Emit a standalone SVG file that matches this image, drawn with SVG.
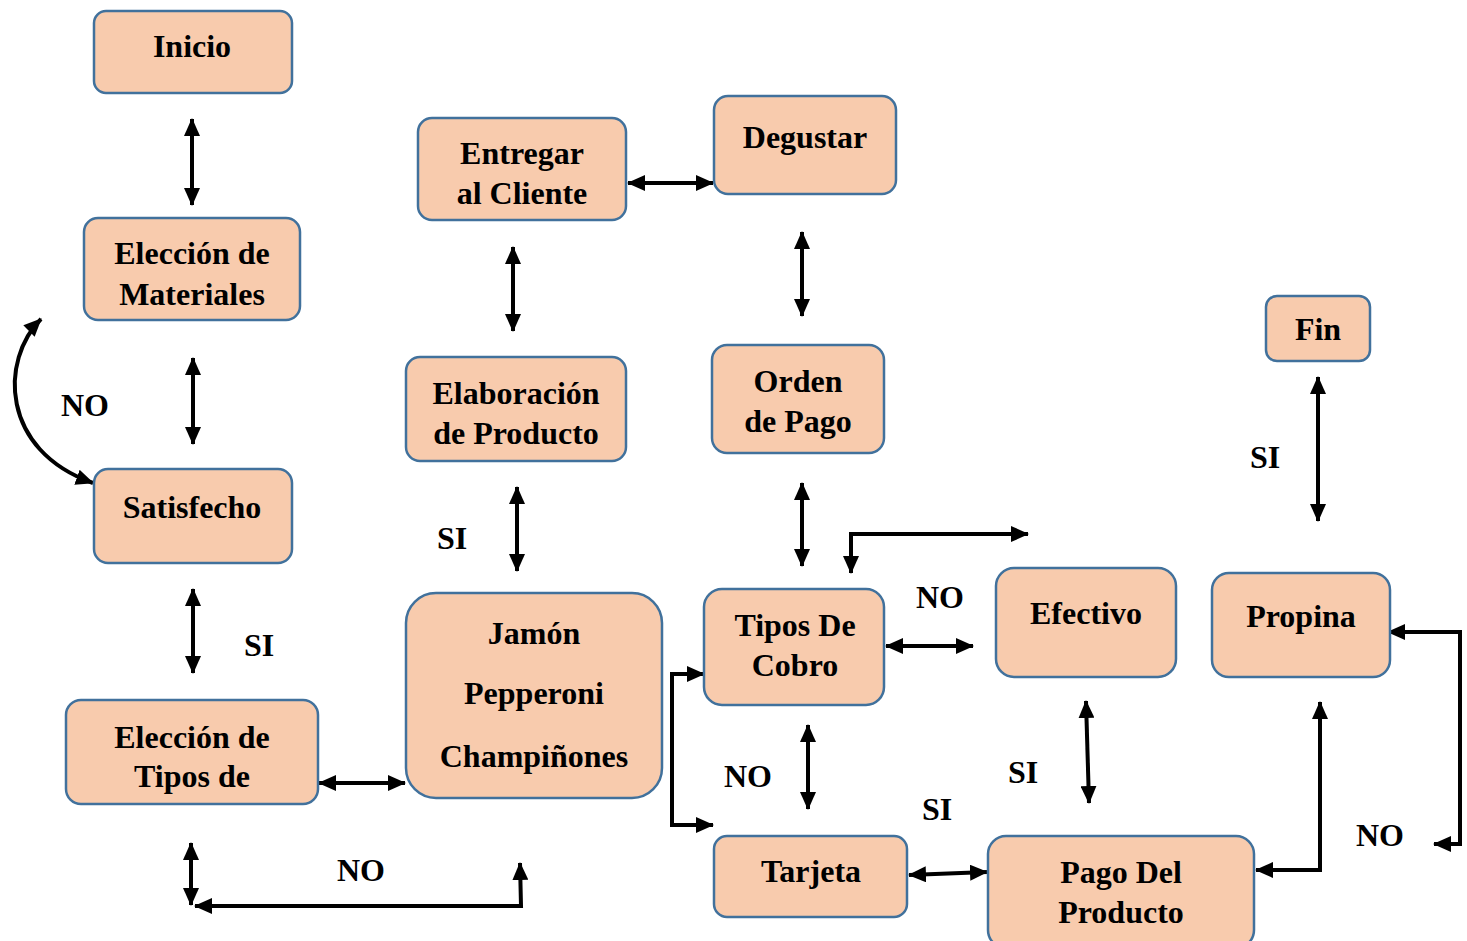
<svg xmlns="http://www.w3.org/2000/svg" width="1467" height="941" viewBox="0 0 1467 941">
<style>
.box{fill:#F8CBAD;stroke:#41719C;stroke-width:2.5}
.t{font-family:'Liberation Serif','Times New Roman','DejaVu Serif',serif;font-weight:700;font-size:32px;fill:#000;text-anchor:middle}
.c{fill:none;stroke:#000;stroke-width:4}
.d{marker-start:url(#as);marker-end:url(#ae)}
</style>
<defs>
<marker id="ae" viewBox="0 0 18 16" refX="17" refY="8" markerWidth="18" markerHeight="16" markerUnits="userSpaceOnUse" orient="auto"><path d="M0,0 L18,8 L0,16 z" fill="#000"/></marker>
<marker id="as" viewBox="0 0 18 16" refX="17" refY="8" markerWidth="18" markerHeight="16" markerUnits="userSpaceOnUse" orient="auto-start-reverse"><path d="M0,0 L18,8 L0,16 z" fill="#000"/></marker>
</defs>
<rect width="1467" height="941" fill="#fff"/>
<g id="connectors">
<line class="c d" x1="192" y1="119" x2="192" y2="205"/>
<line class="c d" x1="193" y1="358" x2="193" y2="444"/>
<path class="c d" d="M41 319 C0 360,0 450,93 483"/>
<line class="c d" x1="193" y1="589" x2="193" y2="673"/>
<line class="c d" x1="319" y1="783" x2="405" y2="783"/>
<line class="c d" x1="191" y1="843" x2="191" y2="905"/>
<path class="c d" d="M195 906 L521 906 L520 863"/>
<line class="c d" x1="513" y1="247" x2="513" y2="331"/>
<line class="c d" x1="628" y1="183" x2="713" y2="183"/>
<line class="c d" x1="802" y1="232" x2="802" y2="316"/>
<line class="c d" x1="517" y1="487" x2="517" y2="571"/>
<line class="c d" x1="802" y1="483" x2="802" y2="566"/>
<path class="c d" d="M851 573 L851 534 L1028 534"/>
<line class="c d" x1="886" y1="646" x2="973" y2="646"/>
<line class="c d" x1="808" y1="725" x2="808" y2="809"/>
<path class="c d" d="M704 674 L672 674 L672 825 L713 825"/>
<line class="c d" x1="909" y1="875" x2="987" y2="872"/>
<line class="c d" x1="1086" y1="701" x2="1089" y2="803"/>
<path class="c d" d="M1256 870 L1320 870 L1320 702"/>
<path class="c d" d="M1388 632 L1460 632 L1460 844 L1434 844"/>
<line class="c d" x1="1318" y1="377" x2="1318" y2="521"/>
</g>
<g id="labels">
<text class="t" x="85" y="416">NO</text>
<text class="t" x="259" y="656">SI</text>
<text class="t" x="361" y="881">NO</text>
<text class="t" x="452" y="549">SI</text>
<text class="t" x="940" y="608">NO</text>
<text class="t" x="748" y="787">NO</text>
<text class="t" x="937" y="820">SI</text>
<text class="t" x="1023" y="783">SI</text>
<text class="t" x="1265" y="468">SI</text>
<text class="t" x="1380" y="846">NO</text>
</g>
<g id="inicio"><rect class="box" x="94" y="11" width="198" height="82" rx="12"/><text class="t" x="192" y="57">Inicio</text></g>
<g id="materiales"><rect class="box" x="84" y="218" width="216" height="102" rx="14"/><text class="t" x="192" y="264">Elección de</text><text class="t" x="192" y="305">Materiales</text></g>
<g id="satisfecho"><rect class="box" x="94" y="469" width="198" height="94" rx="14"/><text class="t" x="192" y="518">Satisfecho</text></g>
<g id="tipos"><rect class="box" x="66" y="700" width="252" height="104" rx="15"/><text class="t" x="192" y="748">Elección de</text><text class="t" x="192" y="787">Tipos de</text></g>
<g id="entregar"><rect class="box" x="418" y="118" width="208" height="102" rx="14"/><text class="t" x="522" y="164">Entregar</text><text class="t" x="522" y="204">al Cliente</text></g>
<g id="degustar"><rect class="box" x="714" y="96" width="182" height="98" rx="14"/><text class="t" x="805" y="148">Degustar</text></g>
<g id="elaboracion"><rect class="box" x="406" y="357" width="220" height="104" rx="14"/><text class="t" x="516" y="404">Elaboración</text><text class="t" x="516" y="444">de Producto</text></g>
<g id="orden"><rect class="box" x="712" y="345" width="172" height="108" rx="15"/><text class="t" x="798" y="392">Orden</text><text class="t" x="798" y="432">de Pago</text></g>
<g id="ingredientes"><rect class="box" x="406" y="593" width="256" height="205" rx="30"/><text class="t" x="534" y="644">Jamón</text><text class="t" x="534" y="704">Pepperoni</text><text class="t" x="534" y="767">Champiñones</text></g>
<g id="cobro"><rect class="box" x="704" y="589" width="180" height="116" rx="18"/><text class="t" x="795" y="636">Tipos De</text><text class="t" x="795" y="676">Cobro</text></g>
<g id="efectivo"><rect class="box" x="996" y="568" width="180" height="109" rx="18"/><text class="t" x="1086" y="624">Efectivo</text></g>
<g id="propina"><rect class="box" x="1212" y="573" width="178" height="104" rx="17"/><text class="t" x="1301" y="627">Propina</text></g>
<g id="fin"><rect class="box" x="1266" y="296" width="104" height="65" rx="11"/><text class="t" x="1318" y="340">Fin</text></g>
<g id="tarjeta"><rect class="box" x="714" y="836" width="193" height="81" rx="13"/><text class="t" x="811" y="882">Tarjeta</text></g>
<g id="pago"><rect class="box" x="988" y="836" width="266" height="112" rx="18"/><text class="t" x="1121" y="883">Pago Del</text><text class="t" x="1121" y="923">Producto</text></g>
</svg>
